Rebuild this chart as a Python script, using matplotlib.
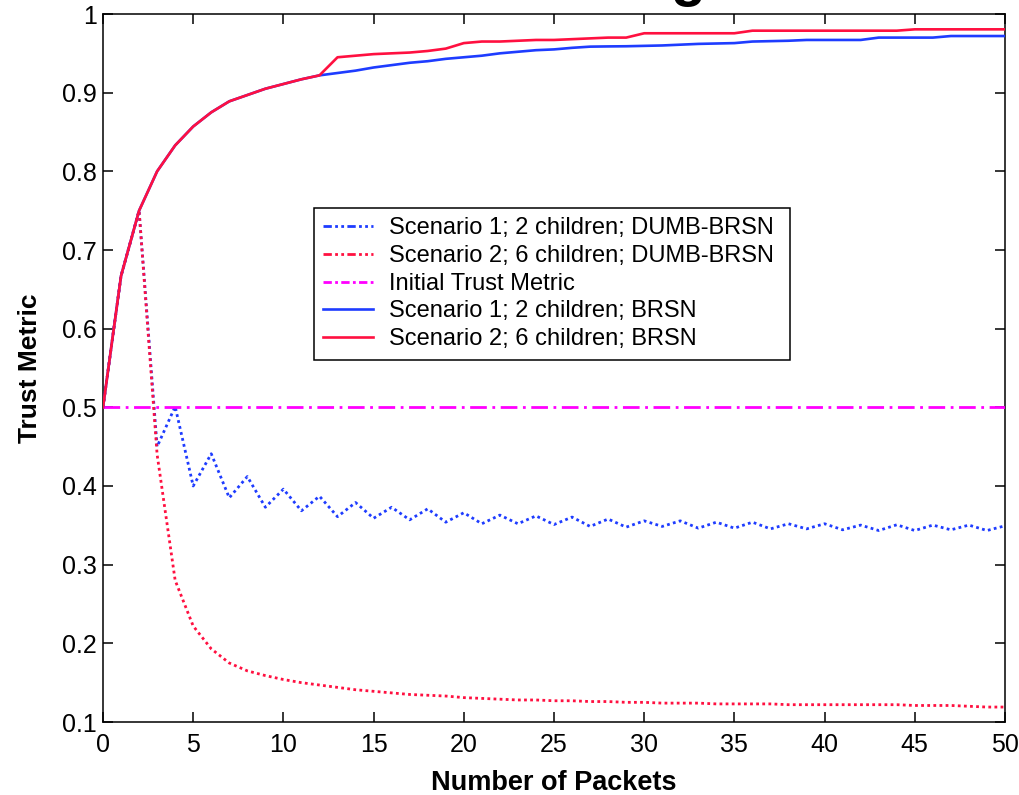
import matplotlib
matplotlib.use("Agg")
import matplotlib.pyplot as plt
from matplotlib.lines import Line2D

plt.rcParams['font.family'] = ['Liberation Sans', 'DejaVu Sans']

packets = list(range(0, 51))

brsn_s1 = [0.5, 0.667, 0.75, 0.8, 0.833, 0.857, 0.875, 0.889, 0.897, 0.905,
           0.911, 0.917, 0.922, 0.925, 0.928, 0.932, 0.935, 0.938, 0.940, 0.943,
           0.945, 0.947, 0.950, 0.952, 0.954, 0.955, 0.957, 0.9585, 0.9588, 0.959,
           0.9595, 0.960, 0.961, 0.962, 0.9625, 0.963, 0.965, 0.9655, 0.966, 0.967,
           0.967, 0.967, 0.967, 0.970, 0.970, 0.970, 0.970, 0.972, 0.972, 0.972,
           0.972]

brsn_s2 = [0.5, 0.667, 0.75, 0.8, 0.833, 0.857, 0.875, 0.889, 0.897, 0.905,
           0.911, 0.917, 0.922, 0.945, 0.947, 0.949, 0.950, 0.951, 0.953, 0.956,
           0.963, 0.965, 0.965, 0.966, 0.967, 0.967, 0.968, 0.969, 0.970, 0.970,
           0.9755, 0.9755, 0.9755, 0.9755, 0.9755, 0.9755, 0.9788, 0.9788, 0.9788, 0.9788,
           0.9788, 0.9788, 0.9788, 0.9788, 0.9788, 0.9805, 0.9805, 0.9805, 0.9805, 0.9805,
           0.9805]

dumb_s1 = [0.5, 0.667, 0.75, 0.450, 0.501, 0.400, 0.441, 0.385, 0.412, 0.373,
           0.396, 0.3685, 0.387, 0.361, 0.379, 0.359, 0.373, 0.357, 0.371, 0.354,
           0.366, 0.352, 0.363, 0.352, 0.362, 0.351, 0.3605, 0.3486, 0.358, 0.3477,
           0.3557, 0.3486, 0.3557, 0.3464, 0.354, 0.3464, 0.354, 0.3455, 0.352, 0.3455,
           0.352, 0.3443, 0.3503, 0.3434, 0.3507, 0.3434, 0.3503, 0.3443, 0.3503, 0.3434,
           0.3494]

dumb_s2 = [0.5, 0.667, 0.75, 0.44, 0.28, 0.222, 0.193, 0.175, 0.165, 0.159,
           0.154, 0.150, 0.147, 0.144, 0.141, 0.139, 0.137, 0.135, 0.134, 0.133,
           0.131, 0.130, 0.129, 0.128, 0.128, 0.127, 0.127, 0.126, 0.126, 0.125,
           0.125, 0.124, 0.124, 0.124, 0.123, 0.123, 0.123, 0.123, 0.122, 0.122,
           0.122, 0.122, 0.122, 0.122, 0.122, 0.121, 0.121, 0.121, 0.120, 0.119,
           0.119]

initial_trust = [0.5] * 51

legend_labels = ["Scenario 1; 2 children; DUMB-BRSN",
                 "Scenario 2; 6 children; DUMB-BRSN",
                 "Initial Trust Metric",
                 "Scenario 1; 2 children; BRSN",
                 "Scenario 2; 6 children; BRSN"]

xticks = list(range(0, 51, 5))
yticks = [0.1, 0.2, 0.3, 0.4, 0.5, 0.6, 0.7, 0.8, 0.9, 1.0]
yticklabels = ["0.1", "0.2", "0.3", "0.4", "0.5", "0.6", "0.7", "0.8", "0.9", "1"]

BLUE = '#1e3cff'
RED = '#ff1040'
MAG = '#ff00ff'

fig = plt.figure(figsize=(10.2, 7.95), dpi=100)
ax = fig.add_axes([103/1020, 1 - 722/795, 902/1020, 708/795])

dotted = (0, (1, 1.2))
dashdot = (0, (6, 2, 1, 2))

ax.plot(packets, dumb_s1, color=BLUE, lw=2.0, linestyle=dotted, zorder=2)
ax.plot(packets, dumb_s2, color=RED, lw=2.0, linestyle=dotted, zorder=2)
ax.plot(packets, initial_trust, color=MAG, lw=2.0, linestyle=dashdot, zorder=3)
ax.plot(packets, brsn_s1, color=BLUE, lw=1.9, zorder=4)
ax.plot(packets, brsn_s2, color=RED, lw=1.9, zorder=5)

ax.set_xlim(0, 50)
ax.set_ylim(0.1, 1.0)
ax.set_xticks(xticks)
ax.set_yticks(yticks)
ax.set_yticklabels(yticklabels)
ax.tick_params(direction='in', length=7, width=1.1, labelsize=18, top=True, right=True)
ax.tick_params(axis='x', pad=8)
ax.tick_params(axis='y', pad=4.5)
for s in ax.spines.values():
    s.set_linewidth(1.1)

ax.set_xlabel("Number of Packets", fontsize=19.5, fontweight='bold', labelpad=9)
ax.set_ylabel("Trust Metric", fontsize=19, fontweight='bold', labelpad=14)

handles = [Line2D([], [], color=BLUE, lw=2.0, linestyle=(0, (3, 1.2, 1, 1.2, 1, 1.2))),
           Line2D([], [], color=RED, lw=2.0, linestyle=(0, (3, 1.2, 1, 1.2, 1, 1.2))),
           Line2D([], [], color=MAG, lw=2.0, linestyle=(0, (3, 1.2, 1, 1.2))),
           Line2D([], [], color=BLUE, lw=1.9),
           Line2D([], [], color=RED, lw=1.9)]
lx0 = (314 - 103) / 902
lx1 = (790 - 103) / 902
ly1 = (722 - 208) / 708
leg = ax.legend(handles, legend_labels, loc='upper left', mode='expand',
                bbox_to_anchor=(lx0, ly1 - 0.3, lx1 - lx0, 0.3),
                borderaxespad=0, fontsize=17, fancybox=False, framealpha=1,
                edgecolor='black', handlelength=2.1, handletextpad=0.68,
                labelspacing=0.24, borderpad=0.4)
leg.get_frame().set_linewidth(1.1)

fig.text(688/1020, 1 + 5/795, "g", fontsize=41, ha='center', va='baseline', fontweight='bold')

fig.savefig("out.png", dpi=100)
